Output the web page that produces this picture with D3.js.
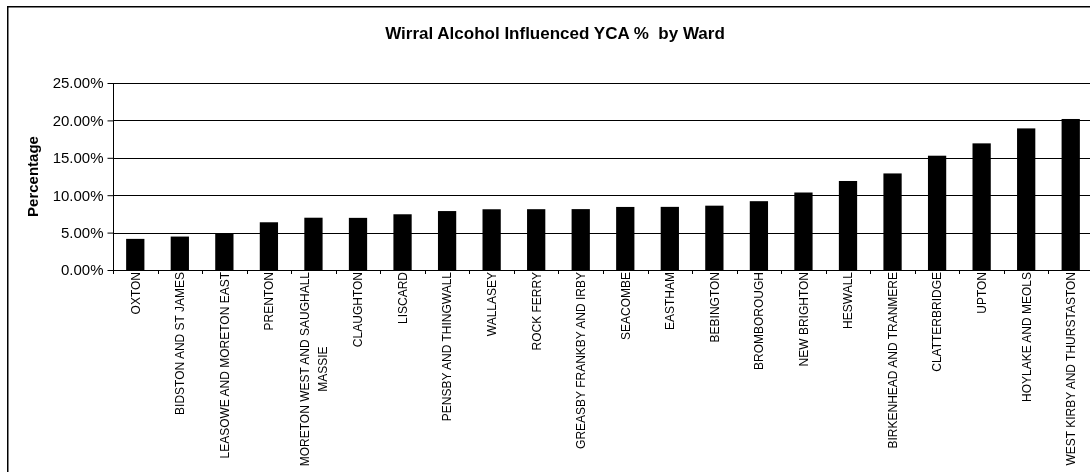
<!DOCTYPE html>
<html>
<head>
<meta charset="utf-8">
<script src="https://cdn.jsdelivr.net/npm/d3@7"></script>
<style>
  html, body { margin: 0; padding: 0; background: #fff; overflow: hidden; width: 100%; height: 100%; }
  #d3-container { position: fixed; left: 0; top: 0; }
  svg { display: block; font-family: Arial, "Liberation Sans", sans-serif; }
</style>
</head>
<body>
<div id="d3-container"></div>
<script>
/**
 * DATA
 * */
const wards = [
  "OXTON", "BIDSTON AND ST JAMES", "LEASOWE AND MORETON EAST", "PRENTON",
  "MORETON WEST AND SAUGHALL\nMASSIE", "CLAUGHTON", "LISCARD", "PENSBY AND THINGWALL",
  "WALLASEY", "ROCK FERRY", "GREASBY FRANKBY AND IRBY", "SEACOMBE", "EASTHAM",
  "BEBINGTON", "BROMBOROUGH", "NEW BRIGHTON", "HESWALL", "BIRKENHEAD AND TRANMERE",
  "CLATTERBRIDGE", "UPTON", "HOYLAKE AND MEOLS", "WEST KIRBY AND THURSTASTON"
];
// percentage of YCA that were alcohol influenced
const percentages = [
  4.16, 4.47, 4.92, 6.38, 6.99, 6.97, 7.45, 7.88, 8.12, 8.13, 8.14,
  8.43, 8.44, 8.60, 9.20, 10.36, 11.90, 12.91, 15.28, 16.93, 18.93, 20.19
];
const yTicks = [0, 5, 10, 15, 20, 25];

const title = "Wirral Alcohol Influenced YCA %  by Ward";
const yTitle = "Percentage";

/**
 * CONSTANTS
 * */
const width = 1090, height = 472;
const plot = { left: 113, right: 1093, top: 83, bottom: 270 };

const data = wards.map((w, i) => ({ ward: w, value: percentages[i] }));

const svg = d3.select("#d3-container")
  .append("svg")
  .attr("width", width)
  .attr("height", height);

// chart border: only the left and top sides are inside the picture
svg.append("path")
  .attr("d", `M7.75,${height}V6.75H${width}`)
  .attr("fill", "none")
  .attr("stroke", "#000")
  .attr("stroke-width", 1.5);

// scales
const x = d3.scaleBand()
  .domain(wards)
  .range([plot.left, plot.right])
  .paddingInner(0.59)
  .paddingOuter(0.295);

const y = d3.scaleLinear()
  .domain([0, 25])
  .range([plot.bottom, plot.top]);

// gridlines
svg.append("g")
  .selectAll("line")
  .data(yTicks.slice(1))
  .join("line")
  .attr("x1", plot.left).attr("x2", plot.right)
  .attr("y1", d => Math.round(y(d)) + 0.5)
  .attr("y2", d => Math.round(y(d)) + 0.5)
  .attr("stroke", "#000");

// bars
svg.append("g")
  .selectAll("rect")
  .data(data)
  .join("rect")
  .attr("x", d => x(d.ward))
  .attr("width", x.bandwidth())
  .attr("y", d => y(d.value))
  .attr("height", d => y(0) - y(d.value))
  .attr("fill", "#000");

// y axis
const yAxis = svg.append("g")
  .attr("transform", `translate(${plot.left + 0.5},0)`)
  .call(d3.axisLeft(y)
    .tickValues(yTicks)
    .tickSize(6)
    .tickPadding(4)
    .tickFormat(d => d3.format(".2f")(d) + "%"));
yAxis.select(".domain").attr("d", `M0,${y(25)}V${y(0)}`);
yAxis.selectAll("text")
  .attr("font-size", 15)
  .attr("font-family", "Arial, 'Liberation Sans', sans-serif")
  .attr("fill", "#000");
yAxis.selectAll("line").attr("stroke", "#000");

// x axis: line plus ticks at category boundaries
const step = x.step();
const xAxis = svg.append("g");
xAxis.append("line")
  .attr("x1", plot.left).attr("x2", plot.right)
  .attr("y1", Math.round(y(0)) + 0.5).attr("y2", Math.round(y(0)) + 0.5)
  .attr("stroke", "#000");
xAxis.selectAll("line.tick")
  .data(d3.range(wards.length + 1))
  .join("line")
  .attr("class", "tick")
  .attr("x1", i => Math.round(plot.left + i * step) + 0.5)
  .attr("x2", i => Math.round(plot.left + i * step) + 0.5)
  .attr("y1", y(0)).attr("y2", y(0) + 4)
  .attr("stroke", "#000");

// category labels, rotated, clipped at the axis line
svg.append("clipPath").attr("id", "labelClip")
  .append("rect")
  .attr("x", 0).attr("y", y(0) + 1.5)
  .attr("width", width).attr("height", height);

const labels = svg.append("g")
  .attr("clip-path", "url(#labelClip)")
  .selectAll("text")
  .data(data)
  .join("text")
  .attr("font-size", 12)
  .attr("fill", "#000")
  .attr("text-anchor", "middle");

labels.each(function (d) {
  const lines = d.ward.split("\n");
  const cx = x(d.ward) + x.bandwidth() / 2;
  const t = d3.select(this);
  t.selectAll("tspan")
    .data(lines)
    .join("tspan")
    .text(l => l);
  // measure the longest line so the block sits against the axis
  let maxLen = 0;
  t.selectAll("tspan").each(function () {
    maxLen = Math.max(maxLen, this.getComputedTextLength());
  });
  const gap = 18;
  const mid = y(0) + 2 + maxLen / 2;
  t.attr("transform", `translate(${cx},${mid}) rotate(-90)`);
  t.selectAll("tspan")
    .attr("x", 0)
    .attr("y", (l, i) => (i - (lines.length - 1) / 2) * gap)
    .attr("dy", "0.36em");
});

// title
svg.append("text")
  .attr("x", 555).attr("y", 39)
  .attr("text-anchor", "middle")
  .attr("font-size", 17)
  .attr("font-weight", "bold")
  .attr("xml:space", "preserve")
  .style("white-space", "pre")
  .text(title);

// y axis title
svg.append("text")
  .attr("transform", `translate(33,${(plot.top + plot.bottom) / 2}) rotate(-90)`)
  .attr("text-anchor", "middle")
  .attr("dy", "0.36em")
  .attr("font-size", 15)
  .attr("font-weight", "bold")
  .text(yTitle);
</script>
</body>
</html>
